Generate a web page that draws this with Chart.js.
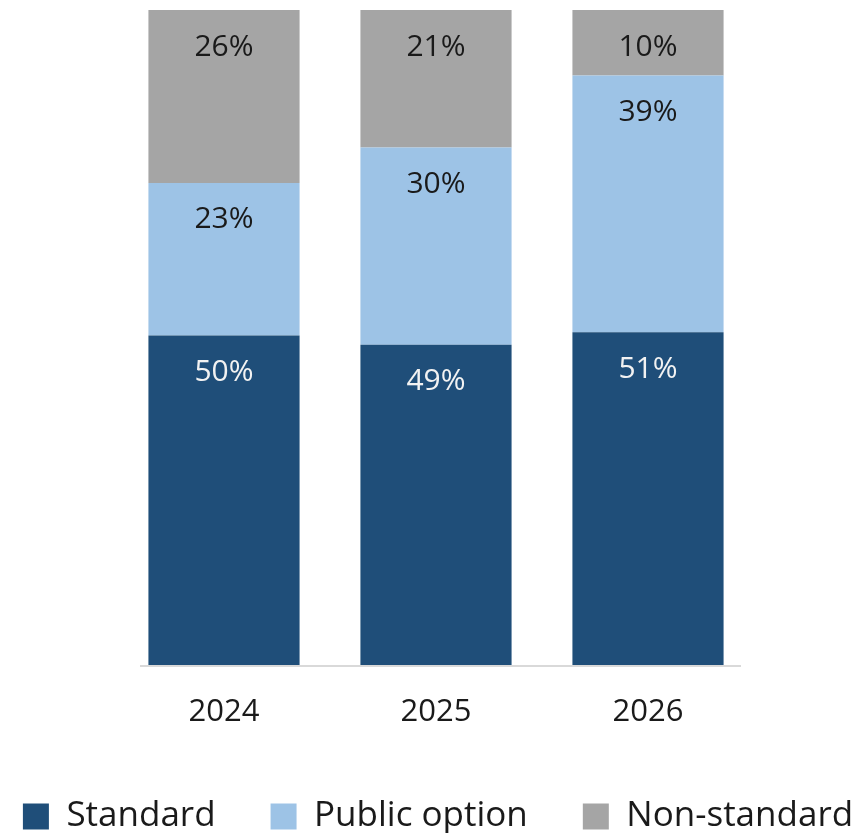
<!DOCTYPE html>
<html>
<head>
<meta charset="utf-8">
<script src="https://cdn.jsdelivr.net/npm/chart.js@4.4.1/dist/chart.umd.min.js"></script>
<style>
    html, body { margin: 0; padding: 0; background: #fff; overflow: hidden; }
    /* canvas a bit wider than the window so the legend fits on one row */
    #wrap { width: 950px; height: 833px; position: relative; margin-left: -37px; }
</style>
</head>
<body>
<div id="wrap"><canvas id="mixChart"></canvas></div>
<script>
// Chart data
const years = ['2024', '2025', '2026'];
const standard = [50.3, 48.9, 50.8];
const publicOption = [23.3, 30.1, 39.2];
const nonStandard = [26.4, 21.0, 10.0];

const colors = {
    standard: '#1f4e79',
    publicOption: '#9dc3e6',
    nonStandard: '#a5a5a5',
    axis: '#d9d9d9',
    text: '#1a1a1a'
};

// Percent labels near the top of each segment
const segmentLabels = {
    id: 'segmentLabels',
    afterDatasetsDraw(chart) {
        const ctx = chart.ctx;
        ctx.save();
        ctx.font = '30px "Open Sans"';
        ctx.textAlign = 'center';
        ctx.textBaseline = 'alphabetic';
        chart.data.datasets.forEach((ds, i) => {
            const meta = chart.getDatasetMeta(i);
            meta.data.forEach((bar, j) => {
                ctx.fillStyle = ds.labelColor;
                ctx.fillText(Math.round(ds.data[j]) + '%', bar.x, bar.y + 45.5);
            });
        });
        ctx.restore();
    }
};

// Short baseline under the bars
const baseLine = {
    id: 'baseLine',
    beforeDatasetsDraw(chart) {
        const ctx = chart.ctx;
        const area = chart.chartArea;
        const y = area.bottom + 1;
        ctx.save();
        ctx.strokeStyle = colors.axis;
        ctx.lineWidth = 2;
        ctx.beginPath();
        ctx.moveTo(area.left + 22, y);
        ctx.lineTo(area.right - 13, y);
        ctx.stroke();
        ctx.restore();
    }
};

// invisible side axes used only as margins
const spacer = (w, pos) => ({
    position: pos,
    display: true,
    min: 0,
    max: 100,
    grid: { display: false, drawTicks: false },
    border: { display: false },
    ticks: { display: false },
    afterFit(scale) { scale.width = w; }
});

new Chart(document.getElementById('mixChart').getContext('2d'), {
    type: 'bar',
    data: {
        labels: years,
        datasets: [{
            label: 'Standard',
            data: standard,
            backgroundColor: colors.standard,
            labelColor: '#f2f2f2'
        }, {
            label: 'Public option',
            data: publicOption,
            backgroundColor: colors.publicOption,
            labelColor: colors.text
        }, {
            label: 'Non-standard',
            data: nonStandard,
            backgroundColor: colors.nonStandard,
            labelColor: colors.text
        }]
    },
    options: {
        responsive: true,
        maintainAspectRatio: false,
        animation: false,
        barPercentage: 0.713,
        categoryPercentage: 1,
        layout: {
            padding: { left: 0, right: 0, top: 10, bottom: -11 }
        },
        plugins: {
            legend: {
                position: 'bottom',
                labels: {
                    color: colors.text,
                    font: { family: 'Open Sans', size: 35 },
                    boxWidth: 26,
                    boxHeight: 26,
                    padding: 55
                }
            },
            tooltip: { enabled: false }
        },
        scales: {
            x: {
                stacked: true,
                grid: { display: false, drawTicks: false },
                border: { display: false },
                ticks: {
                    color: colors.text,
                    font: { family: 'Open Sans', size: 31, lineHeight: 1.0 },
                    padding: 31.5
                },
                afterFit(scale) { scale.height -= 15; }
            },
            y: Object.assign(spacer(155, 'left'), { stacked: true }),
            yRight: spacer(159, 'right')
        }
    },
    plugins: [segmentLabels, baseLine]
});
</script>
</body>
</html>
